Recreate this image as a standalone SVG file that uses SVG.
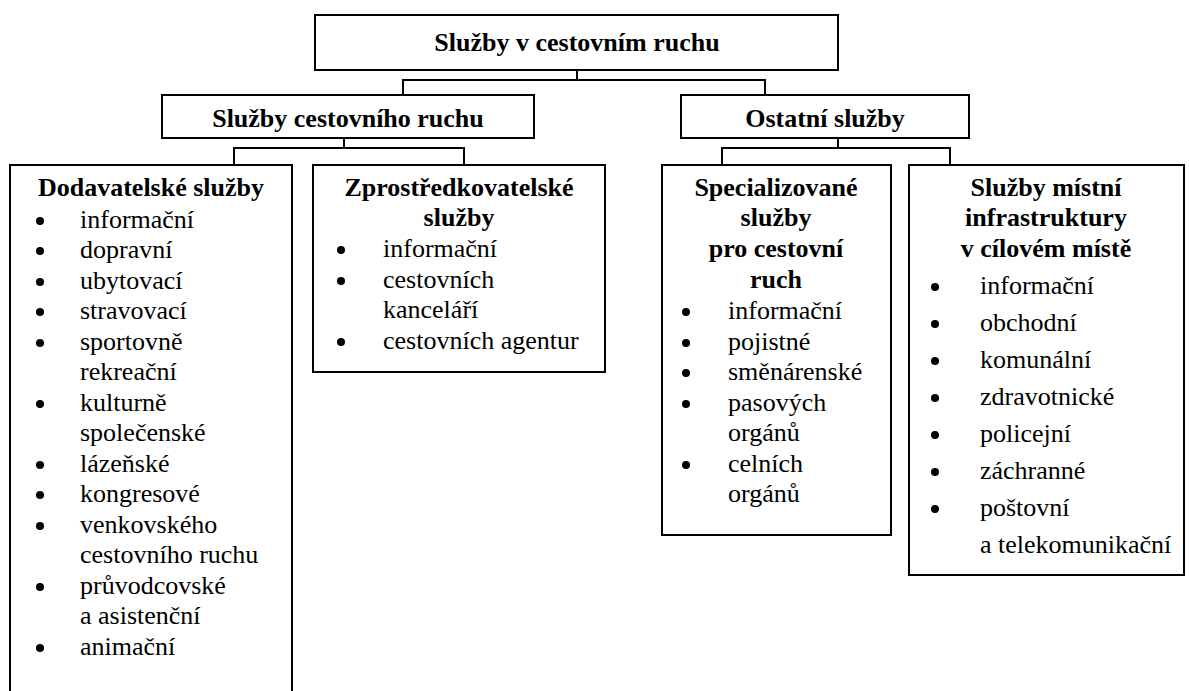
<svg xmlns="http://www.w3.org/2000/svg" width="1189" height="691" viewBox="0 0 1189 691">
<style>
.box{fill:#fff;stroke:#000;stroke-width:2}
.con{fill:none;stroke:#000;stroke-width:2}
text{font-family:"Liberation Serif","DejaVu Serif",serif;font-size:26px;fill:#000}
.b{font-weight:bold;text-anchor:middle}
.dot{fill:#000}
</style>
<rect width="1189" height="691" fill="#fff"/>
<g id="connectors">
<path class="con" d="M577 70V80M403 95V80H765V95"/>
<path class="con" d="M344 138V148M234 165V148H464V165"/>
<path class="con" d="M838 138V148M722 165V148H950V165"/>
</g>
<g id="root">
<rect class="box" x="315" y="15" width="523" height="55"/>
<text class="b" x="577" y="51">Služby v cestovním ruchu</text>
</g>
<g id="sluzby-cr">
<rect class="box" x="162" y="95" width="372" height="43"/>
<text class="b" x="348" y="127">Služby cestovního ruchu</text>
</g>
<g id="ostatni">
<rect class="box" x="681" y="95" width="288" height="43"/>
<text class="b" x="825" y="127">Ostatní služby</text>
</g>
<g id="dodavatelske">
<rect class="box" x="10" y="165" width="282" height="540"/>
<text class="b" x="151" y="196">Dodavatelské služby</text>
<text x="80" y="228">informační</text>
<text x="80" y="258">dopravní</text>
<text x="80" y="289">ubytovací</text>
<text x="80" y="319">stravovací</text>
<text x="80" y="350">sportovně</text>
<text x="80" y="380">rekreační</text>
<text x="80" y="411">kulturně</text>
<text x="80" y="441">společenské</text>
<text x="80" y="472">lázeňské</text>
<text x="80" y="502">kongresové</text>
<text x="80" y="533">venkovského</text>
<text x="80" y="563">cestovního ruchu</text>
<text x="80" y="594">průvodcovské</text>
<text x="80" y="624">a asistenční</text>
<text x="80" y="655">animační</text>
<g class="dot">
<circle cx="40" cy="221" r="4"/><circle cx="40" cy="251" r="4"/><circle cx="40" cy="282" r="4"/><circle cx="40" cy="312" r="4"/><circle cx="40" cy="343" r="4"/><circle cx="40" cy="404" r="4"/><circle cx="40" cy="465" r="4"/><circle cx="40" cy="495" r="4"/><circle cx="40" cy="526" r="4"/><circle cx="40" cy="587" r="4"/><circle cx="40" cy="648" r="4"/>
</g>
</g>
<g id="zprostredkovatelske">
<rect class="box" x="313" y="165" width="292" height="207"/>
<text class="b" x="459" y="196">Zprostředkovatelské</text>
<text class="b" x="459" y="226">služby</text>
<text x="383" y="257">informační</text>
<text x="383" y="288">cestovních</text>
<text x="383" y="318">kanceláří</text>
<text x="383" y="349">cestovních agentur</text>
<g class="dot">
<circle cx="341" cy="250" r="4"/><circle cx="341" cy="281" r="4"/><circle cx="341" cy="342" r="4"/>
</g>
</g>
<g id="specializovane">
<rect class="box" x="662" y="165" width="229" height="370"/>
<text class="b" x="776" y="196">Specializované</text>
<text class="b" x="776" y="226">služby</text>
<text class="b" x="776" y="257">pro cestovní</text>
<text class="b" x="776" y="288">ruch</text>
<text x="728" y="319">informační</text>
<text x="728" y="350">pojistné</text>
<text x="728" y="380">směnárenské</text>
<text x="728" y="411">pasových</text>
<text x="728" y="441">orgánů</text>
<text x="728" y="472">celních</text>
<text x="728" y="502">orgánů</text>
<g class="dot">
<circle cx="686" cy="312" r="4"/><circle cx="686" cy="343" r="4"/><circle cx="686" cy="373" r="4"/><circle cx="686" cy="404" r="4"/><circle cx="686" cy="465" r="4"/>
</g>
</g>
<g id="mistni-infrastruktura">
<rect class="box" x="909" y="165" width="275" height="410"/>
<text class="b" x="1046" y="196">Služby místní</text>
<text class="b" x="1046" y="226">infrastruktury</text>
<text class="b" x="1046" y="257">v cílovém místě</text>
<text x="980" y="294">informační</text>
<text x="980" y="331">obchodní</text>
<text x="980" y="368">komunální</text>
<text x="980" y="405">zdravotnické</text>
<text x="980" y="442">policejní</text>
<text x="980" y="479">záchranné</text>
<text x="980" y="516">poštovní</text>
<text x="980" y="553">a telekomunikační</text>
<g class="dot">
<circle cx="935" cy="287" r="4"/><circle cx="935" cy="324" r="4"/><circle cx="935" cy="361" r="4"/><circle cx="935" cy="398" r="4"/><circle cx="935" cy="435" r="4"/><circle cx="935" cy="472" r="4"/><circle cx="935" cy="509" r="4"/>
</g>
</g>
</svg>
